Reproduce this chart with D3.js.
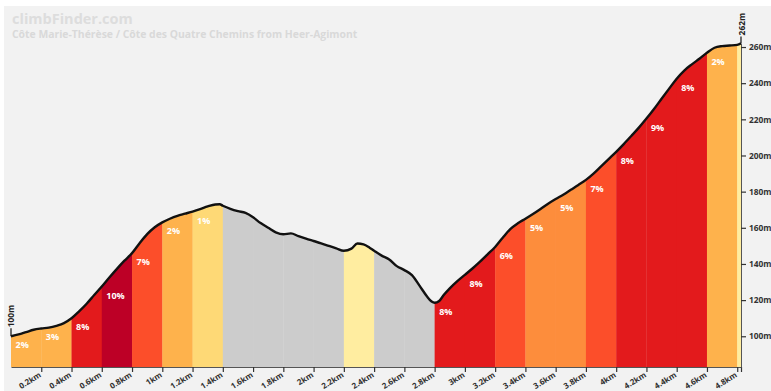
<!DOCTYPE html>
<html>
<head>
<meta charset="utf-8">
<script src="https://cdn.jsdelivr.net/npm/d3@7"></script>
<style>
  html, body { margin: 0; padding: 0; background: #ffffff; }
  svg { display: block; }
  text { font-family: "Open Sans", "DejaVu Sans", sans-serif; }
</style>
</head>
<body>
<svg id="chart" width="771" height="391"></svg>
<script>
// Elevation profile (distance in km, elevation in m)
const distances = [0, 0.05, 0.1, 0.15, 0.2, 0.25, 0.3, 0.35, 0.4, 0.45, 0.5, 0.55, 0.6, 0.65, 0.7, 0.75, 0.8, 0.85, 0.9, 0.95,
  1.0, 1.05, 1.1, 1.15, 1.2, 1.25, 1.3, 1.35, 1.38, 1.4, 1.45, 1.5, 1.55, 1.6, 1.65, 1.7, 1.75, 1.8, 1.85, 1.9, 1.95,
  2.0, 2.05, 2.1, 2.15, 2.2, 2.25, 2.29, 2.33, 2.37, 2.4, 2.45, 2.5, 2.55, 2.6, 2.65, 2.7, 2.75, 2.78, 2.8, 2.83, 2.86, 2.9, 2.95,
  3.0, 3.05, 3.1, 3.15, 3.2, 3.25, 3.3, 3.35, 3.4, 3.45, 3.5, 3.55, 3.6, 3.65, 3.7, 3.75, 3.8, 3.85, 3.9, 3.95,
  4.0, 4.05, 4.1, 4.15, 4.2, 4.25, 4.3, 4.35, 4.4, 4.45, 4.5, 4.55, 4.6, 4.65, 4.7, 4.75, 4.8, 4.825];
const elevations = [100, 101, 102.3, 103.6, 104.3, 104.8, 105.8, 107.3, 110, 113.8, 118, 122.8, 127.5, 132.5, 137.3, 141.8, 146, 151.5, 156.5, 160.3,
  163, 165, 166.6, 167.8, 169, 170.3, 171.8, 172.9, 173, 172.2, 170.5, 169.2, 168.2, 165.8, 162.6, 160, 157.5, 156.4, 156.9, 155.4, 154,
  152.7, 151.4, 150, 148.6, 147.3, 148.5, 151.3, 150.8, 149, 147.3, 144.6, 142.5, 138.8, 136.6, 133.8, 128, 122, 119.2, 118.5, 119.5, 122.8, 126.5, 130.5,
  134, 137.5, 141.3, 145.3, 149.4, 154.5, 159.3, 162.5, 165, 167.6, 170.4, 173.3, 175.9, 178.3, 181, 183.7, 186.5, 190, 194, 198,
  202, 206.3, 210.8, 215.4, 220.4, 225.7, 231.4, 237, 242.5, 247, 250.4, 253.5, 256.8, 259.6, 260.5, 260.8, 261.2, 262];

// Gradient sections (km) and their average gradient (%)
const sectionBounds = [0, 0.2, 0.4, 0.6, 0.8, 1.0, 1.2, 1.4, 1.6, 1.8, 2.0, 2.2, 2.4, 2.6, 2.8, 3.0, 3.2, 3.4, 3.6, 3.8, 4.0, 4.2, 4.4, 4.6, 4.8, 4.825];
const sectionGrades = [2, 3, 8, 10, 7, 2, 1, -4, -4, -2, -3, 0, -5, -9, 8, 8, 6, 5, 5, 7, 8, 9, 8, 2, 0];

// Axis ticks
const xTicks = [0.2, 0.4, 0.6, 0.8, 1, 1.2, 1.4, 1.6, 1.8, 2, 2.2, 2.4, 2.6, 2.8, 3, 3.2, 3.4, 3.6, 3.8, 4, 4.2, 4.4, 4.6, 4.8];
const yTicks = [100, 120, 140, 160, 180, 200, 220, 240, 260];

const title = "climbFinder.com";
const subtitle = "Côte Marie-Thérèse / Côte des Quatre Chemins from Heer-Agimont";

const svg = d3.select("#chart");
const W = 771, H = 391;

// panel background
svg.append("rect").attr("x", 4).attr("y", 6).attr("width", W - 4).attr("height", H - 6).attr("fill", "#f2f2f2");

svg.append("text").attr("x", 12).attr("y", 24)
  .attr("font-size", 14.5).attr("font-weight", 700).attr("fill", "#dddddd").text(title);
svg.append("text").attr("x", 12).attr("y", 37.5)
  .attr("font-size", 10.4).attr("font-weight", 700).attr("fill", "#d9d9d9").text(subtitle);

const x = d3.scaleLinear().domain([0, 4.825]).range([11, 741]);
const y = d3.scaleLinear().domain([83, 262]).range([367, 43.4]);

const points = distances.map((d, i) => [d, elevations[i]]);

function gradeColor(g) {
  if (g < 0) return "#cccccc";
  if (g < 1) return "#ffeda0";
  if (g < 2) return "#fed976";
  if (g < 4) return "#feb24c";
  if (g < 6) return "#fd8d3c";
  if (g < 8) return "#fc4e2a";
  if (g < 10) return "#e31a1c";
  return "#bd0026";
}

const area = d3.area()
  .x(d => x(d[0])).y0(y(83)).y1(d => y(d[1]))
  .curve(d3.curveMonotoneX);
const line = d3.line()
  .x(d => x(d[0])).y(d => y(d[1]))
  .curve(d3.curveMonotoneX);

svg.append("clipPath").attr("id", "profileClip")
  .append("path").attr("d", area(points));

const sections = sectionGrades.map((g, i) => ({ start: sectionBounds[i], end: sectionBounds[i + 1], grade: g }));

svg.append("g").attr("clip-path", "url(#profileClip)")
  .selectAll("rect").data(sections).join("rect")
  .attr("x", d => x(d.start))
  .attr("width", d => x(d.end) - x(d.start) + 0.3)
  .attr("y", y(265))
  .attr("height", y(83) - y(265))
  .attr("fill", d => gradeColor(d.grade));

const elevAt = d3.scaleLinear().domain(distances).range(elevations);

svg.append("g").selectAll("text")
  .data(sections.filter(d => d.grade >= 1))
  .join("text")
  .attr("x", d => x(d.start) + 4.5)
  .attr("y", d => y(elevAt(d.start)) + 12)
  .attr("font-size", 9).attr("font-weight", 700).attr("fill", "#ffffff")
  .text(d => d.grade + "%");

svg.append("path").attr("d", line(points))
  .attr("fill", "none").attr("stroke", "#111111").attr("stroke-width", 2.4)
  .attr("stroke-linejoin", "round");

// x axis
const xAxis = d3.axisBottom(x).tickValues(xTicks.concat([4.825])).tickSize(5).tickSizeOuter(0)
  .tickFormat(d => xTicks.includes(d) ? d3.format("~g")(d) + "km" : "");
const gx = svg.append("g").attr("transform", `translate(0,${y(83)})`).call(xAxis);
gx.select(".domain").attr("stroke", "#555555");
gx.selectAll(".tick line").attr("stroke", "#333333").attr("stroke-width", 1.2);
gx.selectAll(".tick text")
  .attr("font-size", 8).attr("font-weight", 700).attr("fill", "#333333")
  .attr("text-anchor", "end")
  .attr("x", 0).attr("y", 0).attr("dy", "0.35em")
  .attr("transform", "translate(-1.5,7) rotate(-32)");

// y axis
const yAxis = d3.axisRight(y).tickValues(yTicks).tickSize(5).tickSizeOuter(0)
  .tickFormat(d => d + "m");
const gy = svg.append("g").attr("transform", `translate(${x(4.825)},0)`).call(yAxis);
gy.select(".domain").attr("stroke", "#555555");
gy.selectAll(".tick line").attr("stroke", "#333333").attr("stroke-width", 1.2);
gy.selectAll(".tick text")
  .attr("font-size", 8.4).attr("font-weight", 700).attr("fill", "#333333").attr("x", 8);

// start and finish elevation markers
const startElev = elevations[0], endElev = elevations[elevations.length - 1];
svg.append("line").attr("x1", x(0)).attr("x2", x(0))
  .attr("y1", y(startElev)).attr("y2", y(startElev) - 8)
  .attr("stroke", "#111111").attr("stroke-width", 1.2);
svg.append("text")
  .attr("transform", `translate(${x(0) + 3},${y(startElev) - 9}) rotate(-90)`)
  .attr("font-size", 8.4).attr("font-weight", 700).attr("fill", "#222222")
  .text(startElev + "m");
svg.append("line").attr("x1", x(4.825)).attr("x2", x(4.825))
  .attr("y1", y(endElev)).attr("y2", y(endElev) - 7)
  .attr("stroke", "#111111").attr("stroke-width", 1.2);
svg.append("text")
  .attr("transform", `translate(${x(4.825) + 3.5},${y(endElev) - 8}) rotate(-90)`)
  .attr("font-size", 8.4).attr("font-weight", 700).attr("fill", "#222222")
  .text(endElev + "m");
</script>
</body>
</html>
